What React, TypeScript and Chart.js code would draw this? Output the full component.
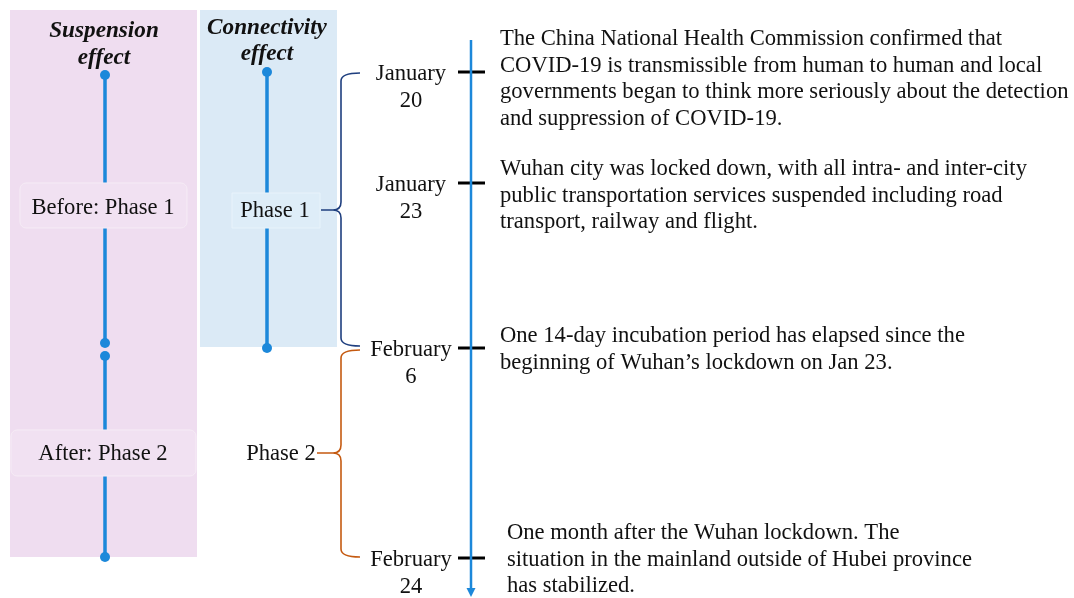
import React, { useEffect, useRef } from 'react';
import { Chart, registerables } from 'chart.js';

Chart.register(...registerables);

const W = 1074;
const H = 598;

// ---- data ----
const eventDates: string[][] = [
  ['January', '20'],
  ['January', '23'],
  ['February', '6'],
  ['February', '24'],
];
const eventPositions = [72, 183, 348, 558];
const eventTexts: string[][] = [
  [
    'The China National Health Commission confirmed that',
    'COVID-19 is transmissible from human to human and local',
    'governments began to think more seriously about the detection',
    'and suppression of COVID-19.',
  ],
  [
    'Wuhan city was locked down, with all intra- and inter-city',
    'public transportation services suspended including road',
    'transport, railway and flight.',
  ],
  [
    'One 14-day incubation period has elapsed since the',
    'beginning of Wuhan\u2019s lockdown on Jan 23.',
  ],
  [
    'One month after the Wuhan lockdown. The',
    'situation in the mainland outside of Hubei province',
    'has stabilized.',
  ],
];
const eventTextFirstLine = [39.5, 169.5, 336.5, 533.5];
const eventTextX = [500, 500, 500, 507];

const suspensionTitle = ['Suspension', 'effect'];
const connectivityTitle = ['Connectivity', 'effect'];
const suspensionSegments = [
  [75, 343],
  [356, 557],
];
const connectivitySegment = [72, 348];
const suspensionLabels = ['Before: Phase 1', 'After: Phase 2'];
const connectivityLabels = ['Phase 1', 'Phase 2'];
const phaseRanges = [
  [73, 346, 210],
  [350, 557, 453],
];

// ---- layout constants ----
const X_SUSP = 105;
const X_CONN = 267;
const X_MAIN = 471;
const TIMELINE_TOP = 40;
const TIMELINE_BOTTOM = 592;

const BLUE = '#1c88da';
const PINK_BG = 'rgb(239,221,240)';
const BLUE_BG = 'rgb(219,234,246)';
const NAVY = '#1f3f7f';
const ORANGE = '#c55a11';
const SERIF = "'Liberation Serif', 'Times New Roman', serif";
const FS = 22.6;

export default function App() {
  const ref = useRef<HTMLCanvasElement | null>(null);

  useEffect(() => {
    const canvas = ref.current;
    if (!canvas) return;

    const lineDs = (pts: { x: number; y: number }[], color: string, width: number, radius: number) => ({
      data: pts,
      showLine: true,
      borderColor: color,
      backgroundColor: color,
      borderWidth: width,
      pointRadius: radius,
      pointBackgroundColor: color,
      pointBorderWidth: 0,
      pointHoverRadius: radius,
    });

    const datasets: any[] = [];
    suspensionSegments.forEach(([a, b]) =>
      datasets.push(lineDs([{ x: X_SUSP, y: a }, { x: X_SUSP, y: b }], BLUE, 3.5, 5))
    );
    datasets.push(
      lineDs([{ x: X_CONN, y: connectivitySegment[0] }, { x: X_CONN, y: connectivitySegment[1] }], BLUE, 3.5, 5)
    );
    datasets.push(lineDs([{ x: X_MAIN, y: TIMELINE_TOP }, { x: X_MAIN, y: TIMELINE_BOTTOM }], BLUE, 2.5, 0));
    eventPositions.forEach((p) =>
      datasets.push(lineDs([{ x: X_MAIN - 13, y: p }, { x: X_MAIN + 14, y: p }], '#000', 3, 0))
    );

    const deco = {
      id: 'deco',
      beforeDatasetsDraw(chart: any) {
        const ctx = chart.ctx as CanvasRenderingContext2D;
        const xs = chart.scales.x;
        const ys = chart.scales.y;
        const X = (v: number) => xs.getPixelForValue(v);
        const Y = (v: number) => ys.getPixelForValue(v);
        ctx.save();
        ctx.fillStyle = PINK_BG;
        ctx.fillRect(X(10), Y(10), X(197) - X(10), Y(557) - Y(10));
        ctx.fillStyle = BLUE_BG;
        ctx.fillRect(X(200), Y(10), X(337) - X(200), Y(347) - Y(10));
        ctx.restore();
      },
      afterDatasetsDraw(chart: any) {
        const ctx = chart.ctx as CanvasRenderingContext2D;
        const xs = chart.scales.x;
        const ys = chart.scales.y;
        const X = (v: number) => xs.getPixelForValue(v);
        const Y = (v: number) => ys.getPixelForValue(v);
        ctx.save();

        // arrow head
        ctx.fillStyle = BLUE;
        ctx.beginPath();
        ctx.moveTo(X(X_MAIN - 4.5), Y(TIMELINE_BOTTOM - 4));
        ctx.lineTo(X(X_MAIN + 4.5), Y(TIMELINE_BOTTOM - 4));
        ctx.lineTo(X(X_MAIN), Y(TIMELINE_BOTTOM + 5));
        ctx.closePath();
        ctx.fill();

        // label boxes
        const box = (x0: number, y0: number, x1: number, y1: number, fill: string, stroke: string, r: number) => {
          ctx.beginPath();
          (ctx as any).roundRect(X(x0), Y(y0), X(x1) - X(x0), Y(y1) - Y(y0), r);
          ctx.fillStyle = fill;
          ctx.fill();
          ctx.strokeStyle = stroke;
          ctx.lineWidth = 1;
          ctx.stroke();
        };
        box(20, 183, 187, 228, 'rgb(241,225,242)', 'rgb(246,236,246)', 6);
        box(11, 430, 196, 476, 'rgb(241,225,242)', 'rgb(246,236,246)', 6);
        box(232, 193, 320, 228, 'rgb(222,237,248)', 'rgb(232,243,251)', 0);

        ctx.fillStyle = '#111';
        ctx.textBaseline = 'middle';
        ctx.textAlign = 'center';
        ctx.font = `${FS}px ${SERIF}`;
        ctx.fillText(suspensionLabels[0], X(103), Y(208));
        ctx.fillText(suspensionLabels[1], X(103), Y(454));
        ctx.fillText(connectivityLabels[0], X(275), Y(211));
        ctx.fillText(connectivityLabels[1], X(281), Y(454));

        // titles
        ctx.font = `italic bold 23.2px ${SERIF}`;
        ctx.fillText(suspensionTitle[0], X(104), Y(31));
        ctx.fillText(suspensionTitle[1], X(104), Y(58));
        ctx.fillText(connectivityTitle[0], X(267), Y(28));
        ctx.fillText(connectivityTitle[1], X(267), Y(54));

        // braces
        const brace = (yTop: number, yBot: number, yTip: number, xTip: number, color: string) => {
          const xv = 341;
          const xe = 360;
          const r = 8;
          ctx.strokeStyle = color;
          ctx.lineWidth = 1.6;
          ctx.beginPath();
          ctx.moveTo(X(xe), Y(yTop));
          ctx.quadraticCurveTo(X(xv), Y(yTop), X(xv), Y(yTop + r));
          ctx.lineTo(X(xv), Y(yTip - r));
          ctx.quadraticCurveTo(X(xv), Y(yTip), X(xv - 8), Y(yTip));
          ctx.lineTo(X(xTip), Y(yTip));
          ctx.moveTo(X(xv - 8), Y(yTip));
          ctx.quadraticCurveTo(X(xv), Y(yTip), X(xv), Y(yTip + r));
          ctx.lineTo(X(xv), Y(yBot - r));
          ctx.quadraticCurveTo(X(xv), Y(yBot), X(xe), Y(yBot));
          ctx.stroke();
        };
        brace(phaseRanges[0][0], phaseRanges[0][1], phaseRanges[0][2], 321, NAVY);
        brace(phaseRanges[1][0], phaseRanges[1][1], phaseRanges[1][2], 317, ORANGE);

        // dates
        ctx.fillStyle = '#111';
        ctx.font = `${FS}px ${SERIF}`;
        ctx.textAlign = 'center';
        eventDates.forEach((d, i) => {
          ctx.fillText(d[0], X(411), Y(eventPositions[i] + 2));
          ctx.fillText(d[1], X(411), Y(eventPositions[i] + 29));
        });

        // event texts
        ctx.textAlign = 'left';
        eventTexts.forEach((lines, i) => {
          lines.forEach((l, j) => {
            ctx.fillText(l, X(eventTextX[i]), Y(eventTextFirstLine[i] + j * 26.5));
          });
        });

        ctx.restore();
      },
    };

    const chart = new Chart(canvas, {
      type: 'scatter',
      data: { datasets },
      options: {
        animation: false,
        responsive: false,
        events: [],
        layout: { padding: 0, autoPadding: false },
        plugins: { legend: { display: false }, tooltip: { enabled: false } },
        scales: {
          x: { type: 'linear', min: 0, max: W, display: false },
          y: { type: 'linear', min: 0, max: H, reverse: true, display: false },
        },
      },
      plugins: [deco],
    });
    return () => chart.destroy();
  }, []);

  return (
    <div style={{ position: 'absolute', left: 0, top: 0, width: W, height: H, background: '#fff' }}>
      <canvas ref={ref} width={W} height={H} style={{ display: 'block' }} />
    </div>
  );
}
